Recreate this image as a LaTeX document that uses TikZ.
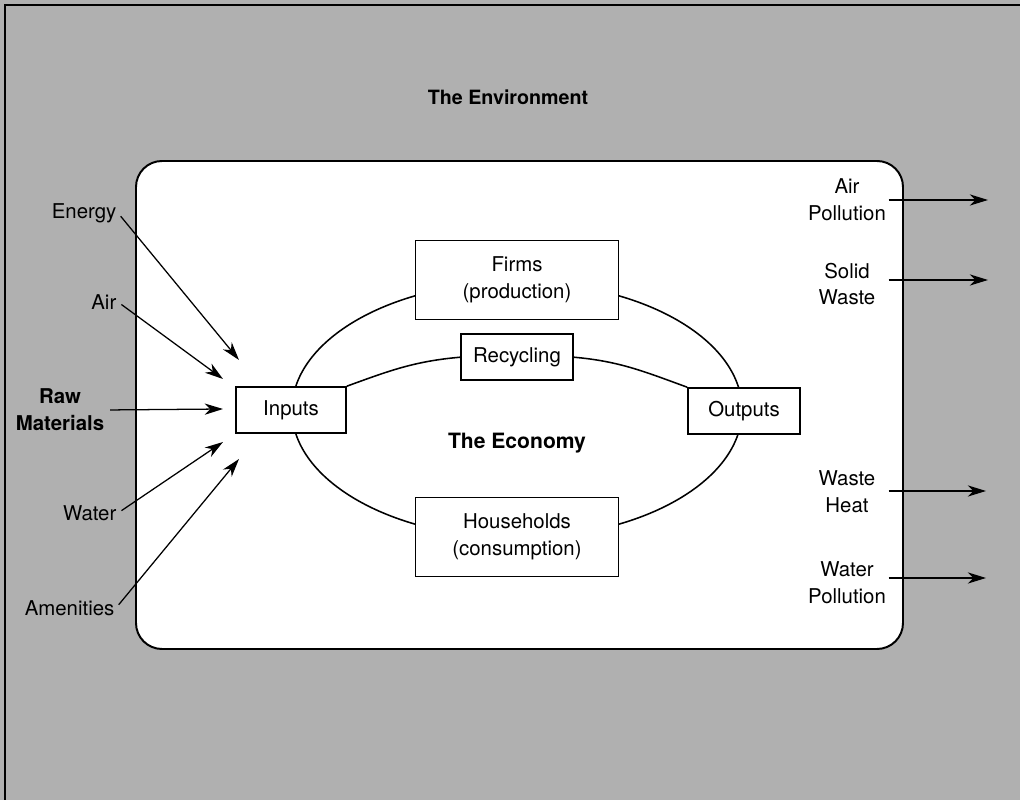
\documentclass[tikz,border=0pt]{standalone}
\usepackage{fontspec}
\setmainfont{TeX Gyre Heros}
\usetikzlibrary{arrows.meta, shapes.geometric}
\begin{document}
\begin{tikzpicture}[x = 0.025cm, y = 0.025cm, font = \fontsize{14.5}{19}\selectfont,
		box/.style = {draw, fill = white, line width = 1.1pt, align = center, minimum width = 2.8cm, minimum height = 1.15cm},
		big/.style = {box, minimum width = 5.08cm, minimum height = 1.98cm},
		lbl/.style = {align = center, inner sep = 1pt},
		side/.style = {lbl, text width = 2cm},
		flow/.style = {-{Stealth[length = 13pt, width = 8pt, inset = 4pt]}, line width = 0.9pt}]
			\useasboundingbox (0,0) rectangle (1020,800);
			\fill[black!31] (0,0) rectangle (1020,800);
			\draw[line width = 1.2pt] (5,0) -- (5,795) -- (1020,795);
			\node[font = \fontsize{14}{17}\selectfont\bfseries] (env) at (508,703) {The Environment};
			\draw[fill = white, line width = 1.4pt, rounded corners = 0.65cm] (136,151) rectangle (903,639);
			\node[draw, ellipse, line width = 1.1pt, minimum width = 11.25cm, minimum height = 6.4cm, inner sep = 0] (loop) at (517,390) {};
			\node[font = \fontsize{15}{18}\selectfont\bfseries] (economy) at (517,357) {The Economy};
			\node[big] (firms) at (517,520) {Firms\\(production)};
			\node[box, below of = firms, node distance = 1.93cm] (recycling) {Recycling};
			\node[big] (households) at (517,263) {Households\\(consumption)};
			\node[box, minimum width = 2.75cm] (inputs) at (291,390) {Inputs};
			\node[box] (outputs) at (744,389) {Outputs};
			\draw[line width = 1.1pt] (inputs.north east) to[out = 20, in = 185] (recycling.west);
			\draw[line width = 1.1pt] (recycling.east) to[out = -5, in = 160] (outputs.north west);
			% what goes in
			\node[lbl, anchor = east] (energy) at (118,587) {Energy};
			\node[lbl, anchor = east] (air) at (118,498) {Air};
			\node[lbl, font = \fontsize{14.5}{19}\selectfont\bfseries] (raw) at (60,390) {Raw\\Materials};
			\node[lbl, anchor = east] (water) at (118,287) {Water};
			\node[lbl, anchor = east] (amenities) at (116,192) {Amenities};
			\coordinate (toE) at (239,440);
			\coordinate (toA) at (223,421);
			\coordinate (toR) at (223,391);
			\coordinate (toW) at (223,358);
			\coordinate (toM) at (239,341);
			\draw[flow, shorten <= 3pt] (energy.east) -- (toE);
			\draw[flow, shorten <= 3pt] (air.east) -- (toA);
			\draw[flow, shorten <= 3pt] (raw.east) -- (toR);
			\draw[flow, shorten <= 3pt] (water.east) -- (toW);
			\draw[flow, shorten <= 3pt] (amenities.east) -- (toM);
			% what goes out
			\node[side] (airpol) at (847,600) {Air\\Pollution};
			\node[side] (solid) at (847,516) {Solid\\Waste};
			\node[side] (heat) at (847,308) {Waste\\Heat};
			\node[side] (waterpol) at (847,217) {Water\\Pollution};
			\coordinate (outA) at (988,600);
			\coordinate (outS) at (988,520);
			\coordinate (outH) at (986,309);
			\coordinate (outW) at (986,222);
			\draw[flow] (airpol.east |- outA) -- (outA);
			\draw[flow] (solid.east |- outS) -- (outS);
			\draw[flow] (heat.east |- outH) -- (outH);
			\draw[flow] (waterpol.east |- outW) -- (outW);
		\end{tikzpicture}
\end{document}
